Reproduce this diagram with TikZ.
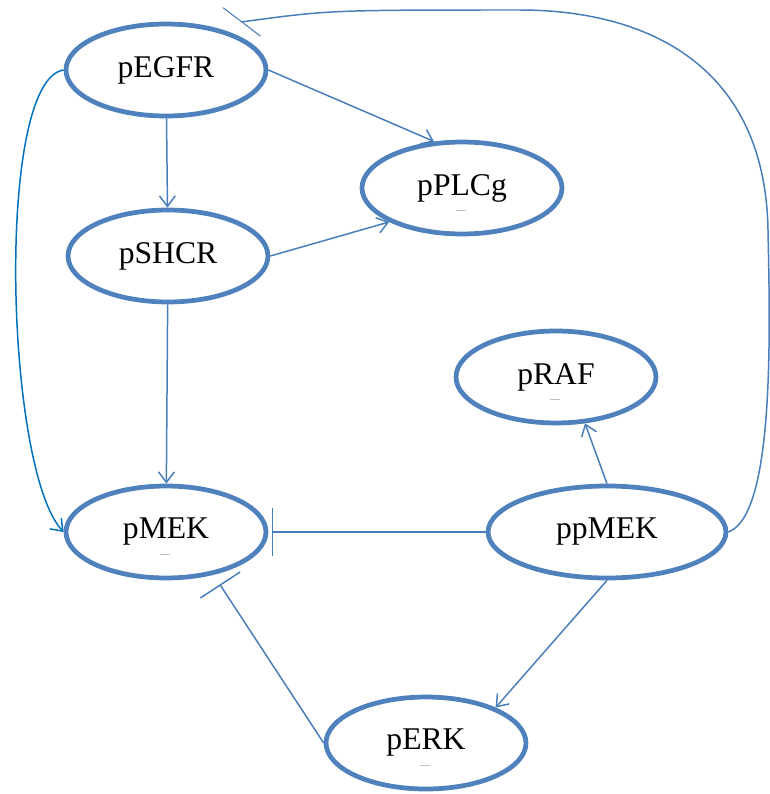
\documentclass[tikz,border=0pt]{standalone}
\usepackage{fontspec}
\setmainfont{Liberation Serif}
\usetikzlibrary{shapes.geometric,arrows.meta}
\definecolor{nodeblue}{HTML}{4F81BD}
\definecolor{edgeblue}{HTML}{4A7EBB}
\definecolor{curveblue}{HTML}{0070C0}

\begin{document}
\begin{tikzpicture}[x=0.02cm,y=-0.02cm,
	every node/.style={ellipse,draw=nodeblue,line width=2.7pt,minimum width=4cm,minimum height=1.84cm,font=\fontsize{18}{20}\selectfont},
	act/.style={edgeblue,line width=0.85pt,-{Straight Barb[length=6pt,width=9pt]}},
	inh/.style={edgeblue,line width=0.85pt,-{Bar[width=27pt]},shorten >=2pt},
	dashmark/.style={gray!50,line width=0.5pt}]
	\useasboundingbox (0,0) rectangle (769,794);
	% proteins
	\node (pEGFR) at (166,70) {pEGFR};
	\node (pPLCg) at (462,188) {pPLCg};
	\node (pSHCR) at (168,256) {pSHCR};
	\node (pRAF) at (556,377) {pRAF};
	\node (pMEK) at (166,532) {pMEK};
	\node[minimum width=4.76cm] (ppMEK) at (607,532) {ppMEK};
	\node (pERK) at (426,743) {pERK};
	\foreach \n in {pPLCg,pRAF,pMEK,pERK}
		\draw[dashmark] (\n) ++(-6,22) -- ++(10,0);
	% activation
	\draw[act] (pEGFR) -- (pSHCR);
	\draw[act] (pEGFR.east) -- (pPLCg.121);
	\draw[act] (pSHCR.east) -- (pPLCg.205);
	\draw[act] (pSHCR) -- (pMEK);
	\draw[act] (ppMEK.north) -- (pRAF.-58);
	\draw[act] (ppMEK.south) -- (pERK.27);
	\draw[act,curveblue] (pEGFR.west) .. controls (-5,80) and (5,470) .. (pMEK.west);
	% inhibition
	\draw[inh] (ppMEK.west) -- (pMEK.east);
	\draw[inh,shorten >=6.5pt] (pERK.west) -- (pMEK.-42);
	\coordinate (egfrbar) at (241,22);
	\draw[edgeblue,line width=0.85pt,-{Bar[width=19pt,slant=-1]}] (ppMEK.east)
		.. controls (775,515) and (770,330) .. (768,230)
		.. controls (765,60) and (640,10) .. (520,10)
		.. controls (330,10) .. (egfrbar);
\end{tikzpicture}
\end{document}
